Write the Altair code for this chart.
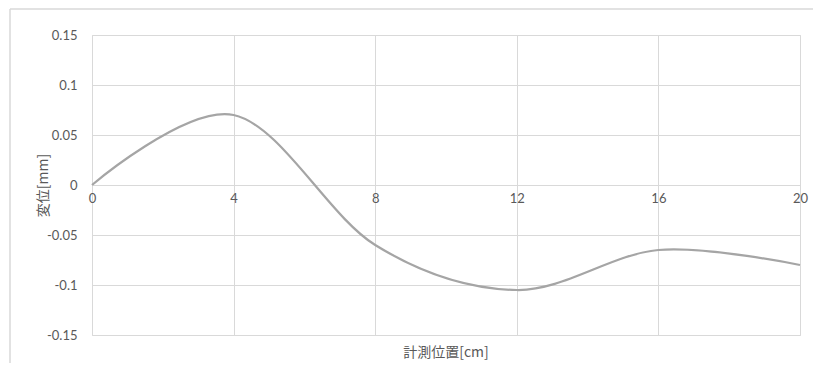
import altair as alt
import pandas as pd

positions = [0, 4, 8, 12, 16, 20]
displacement = [0.0, 0.07, -0.06, -0.105, -0.065, -0.08]

x_ticks = [0, 4, 8, 12, 16, 20]
y_ticks = [-0.15, -0.1, -0.05, 0, 0.05, 0.1, 0.15]
x_title = "計測位置[cm]"

df = pd.DataFrame({"pos": positions, "disp": displacement})

GRID = "#d9d9d9"
TEXT = "#595959"

line = alt.Chart(df).mark_line(
    interpolate="cardinal", color="#a5a5a5", strokeWidth=2.25
).encode(
    x=alt.X(
        "pos:Q",
        scale=alt.Scale(domain=[0, 20], nice=False, zero=False),
        axis=alt.Axis(
            values=x_ticks,
            title=None,
            offset=-150,
            grid=True,
            gridColor=GRID,
            gridWidth=1,
            domain=True,
            domainColor=GRID,
            domainWidth=1,
            ticks=False,
            labelPadding=7,
            labelFontSize=13,
            labelColor=TEXT,
            labelFont="Lato",
            labelFlush=False,
        ),
    ),
    y=alt.Y(
        "disp:Q",
        scale=alt.Scale(domain=[-0.15, 0.15], nice=False, zero=False),
        axis=alt.Axis(
            values=y_ticks,
            labelExpr="toString(datum.value)",
            title="変位[mm]",
            titleFont="Noto Sans CJK JP",
            titleFontSize=14,
            titleFontWeight="normal",
            titleColor=TEXT,
            titlePadding=-4,
            grid=True,
            gridColor=GRID,
            gridWidth=1,
            domain=False,
            ticks=False,
            labelPadding=15,
            labelFontSize=13,
            labelColor=TEXT,
            labelFont="Lato",
        ),
    ),
)

xtitle = alt.Chart(pd.DataFrame({"t": [x_title]})).mark_text(
    font="Noto Sans CJK JP", fontSize=14, color=TEXT, baseline="middle", align="center"
).encode(text="t:N", x=alt.value(354), y=alt.value(318))

border = alt.Chart(pd.DataFrame({"a": [0]})).mark_rule(color=GRID, strokeWidth=1.5).encode(
    x=alt.value(-82), y=alt.value(-26), y2=alt.value(340)
)
border_top = alt.Chart(pd.DataFrame({"a": [0]})).mark_rule(color=GRID, strokeWidth=1.5).encode(
    x=alt.value(-82), x2=alt.value(730), y=alt.value(-26)
)

chart = alt.layer(border, border_top, line, xtitle).properties(
    width=708,
    height=300,
    autosize=alt.AutoSizeParams(type="none"),
    padding={"left": 84, "top": 27, "right": 13, "bottom": 28},
).configure_view(stroke=None).configure(background="white")

chart.save("out.html", embed_options={"renderer": "svg", "actions": False})
